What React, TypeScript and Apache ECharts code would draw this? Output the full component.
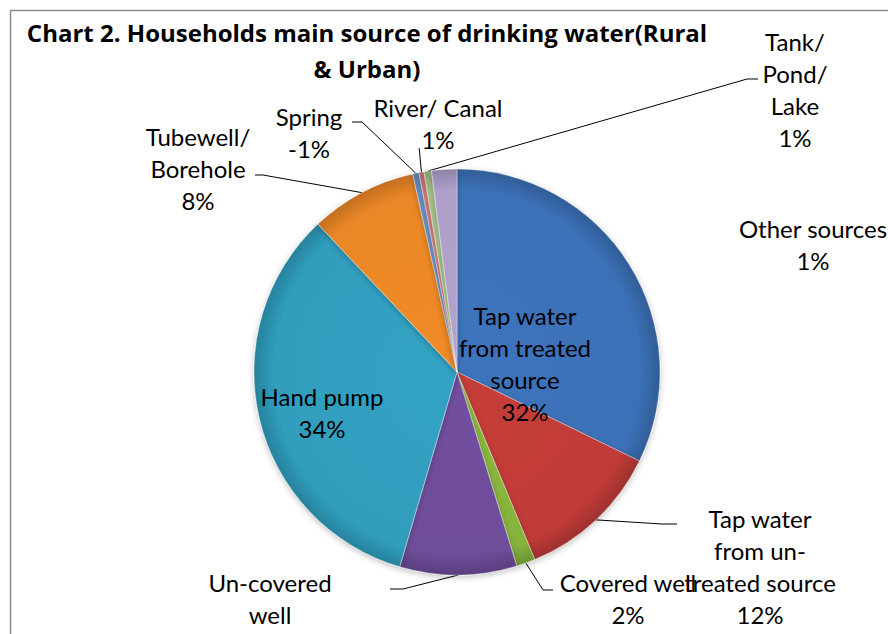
import React, { useEffect, useRef } from "react";
import * as echarts from "echarts";

const categories = [
  "Tap water\nfrom treated\nsource",
  "Tap water\nfrom un-\ntreated source",
  "Covered well",
  "Un-covered\nwell",
  "Hand pump",
  "Tubewell/\nBorehole",
  "Spring",
  "River/ Canal",
  "Tank/\nPond/\nLake",
  "Other sources",
];
// slice sizes (percent)
const values = [32.2, 11.5, 1.5, 9.3, 33.4, 8.5, 0.5, 0.4, 0.6, 2.0];
// percentages printed on the labels
const labelPercents = ["32%", "12%", "2%", "", "34%", "8%", "-1%", "1%", "1%", "1%"];

const colors = [
  "#3d74bd",
  "#c63d39",
  "#8ab93f",
  "#714f9f",
  "#31a3c4",
  "#f28b28",
  "#6b96cf",
  "#d8807c",
  "#a9c68b",
  "#b3a3cf",
];

// label anchor positions (px)
const labelPos: [number, number][] = [
  [525, 363],
  [760, 566],
  [628, 598],
  [270, 598],
  [322, 412],
  [198, 168],
  [309, 132],
  [438, 123],
  [795, 89],
  [813, 244],
];
// leader line elbow and end points (px) for outside labels
const leaderPts: ([number, number][] | null)[] = [
  null,
  [[662, 524], [677, 524]],
  [[543, 590], [553, 590]],
  [[403, 589], [390, 589]],
  null,
  [[263, 175], [255, 175]],
  [[362, 122], [352, 122]],
  [[419.5, 151], [419, 148]],
  [[747, 79], [758, 79]],
  null,
];
const insideIdx = [0, 4];
const noLineIdx = [9];

const CX = 457;
const CY = 372;
const R = 203;

function darken(hex: string, f: number) {
  const n = parseInt(hex.slice(1), 16);
  const r = Math.round(((n >> 16) & 255) * f);
  const g = Math.round(((n >> 8) & 255) * f);
  const b = Math.round((n & 255) * f);
  return `rgb(${r},${g},${b})`;
}

export default function App() {
  const ref = useRef<HTMLDivElement>(null);
  useEffect(() => {
    if (!ref.current) return;
    const chart = echarts.init(ref.current, undefined, { renderer: "svg" });
    const data = categories.map((name, i) => {
      const inside = insideIdx.includes(i);
      return {
        name,
        value: values[i],
        itemStyle: {
          color: {
            type: "radial",
            x: CX,
            y: CY,
            r: R,
            global: true,
            colorStops: [
              { offset: 0, color: darken(colors[i], 1.0) },
              { offset: 0.9, color: darken(colors[i], 0.97) },
              { offset: 1, color: darken(colors[i], 0.8) },
            ],
          },
        },
        label: {
          position: inside ? "inside" : "outside",
          formatter: labelPercents[i] ? `${name}\n${labelPercents[i]}` : name,
        },
        labelLine: { show: !inside && !noLineIdx.includes(i) },
      };
    });
    chart.setOption({
      animation: false,
      backgroundColor: "#ffffff",
      title: {
        text: "Chart 2. Households main source of drinking water(Rural\n& Urban)",
        left: 362,
        top: 9,
        textAlign: "center",
        textStyle: {
          fontFamily: "Open Sans",
          fontWeight: "bold",
          fontSize: 24,
          lineHeight: 36,
          color: "#000",
        },
      },
      graphic: [
        {
          type: "rect",
          shape: { x: 10.5, y: 10.5, width: 1000, height: 1000 },
          style: { fill: "none", stroke: "#8a8a8a", lineWidth: 1.5 },
          silent: true,
          z: -10,
        },
      ],
      series: [
        {
          type: "pie",
          center: [CX, CY],
          radius: R,
          startAngle: 90,
          clockwise: true,
          avoidLabelOverlap: false,
          data,
          itemStyle: {
            borderColor: "rgba(255,255,255,0.35)",
            borderWidth: 1,
            shadowBlur: 6,
            shadowColor: "rgba(0,0,0,0.25)",
            shadowOffsetY: 2,
          },
          label: {
            show: true,
            color: "#000",
            fontFamily: "Lato",
            fontSize: 24,
            lineHeight: 32,
            align: "center",
          },
          labelLine: {
            show: true,
            length: 10,
            length2: 10,
            lineStyle: { color: "#000", width: 1 },
          },
          labelLayout: (params: any) => {
            const i = params.dataIndex;
            const p = labelPos[i];
            const out: any = { x: p[0], y: p[1], align: "center", verticalAlign: "middle" };
            const lp = leaderPts[i];
            if (lp && params.labelLinePoints && params.labelLinePoints[0]) {
              out.labelLinePoints = [params.labelLinePoints[0], lp[0], lp[1]];
            }
            return out;
          },
        },
      ],
    });
    return () => chart.dispose();
  }, []);
  return (
    <div
      ref={ref}
      style={{ position: "fixed", left: 0, top: 0, width: 888, height: 634 }}
    />
  );
}
